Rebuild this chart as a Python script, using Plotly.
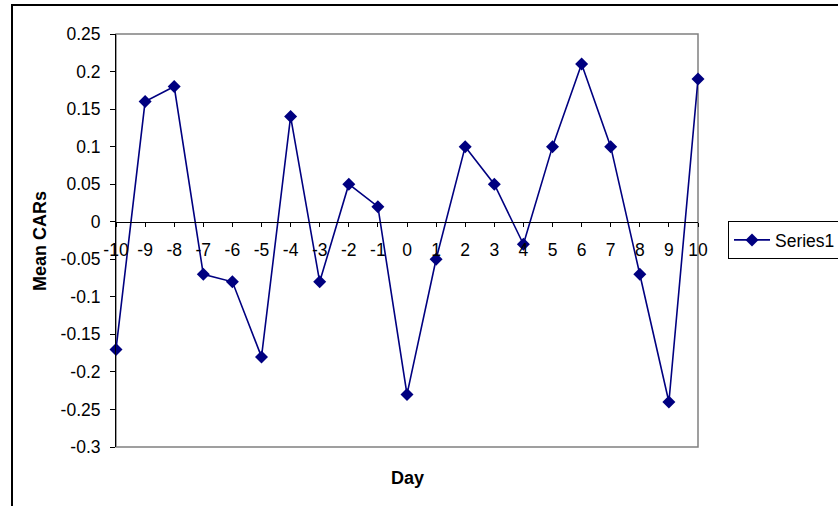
import plotly.graph_objects as go

days = [-10, -9, -8, -7, -6, -5, -4, -3, -2, -1, 0, 1, 2, 3, 4, 5, 6, 7, 8, 9, 10]
mean_cars = [-0.17, 0.16, 0.18, -0.07, -0.08, -0.18, 0.14, -0.08, 0.05, 0.02, -0.23,
             -0.05, 0.10, 0.05, -0.03, 0.10, 0.21, 0.10, -0.07, -0.24, 0.19]
y_ticks = [0.25, 0.2, 0.15, 0.1, 0.05, 0, -0.05, -0.1, -0.15, -0.2, -0.25, -0.3]
y_ticklabels = ["0.25", "0.2", "0.15", "0.1", "0.05", "0", "-0.05", "-0.1", "-0.15", "-0.2", "-0.25", "-0.3"]
series_name = "Series1"

W, H = 838, 506
L, R, T, B = 116, 698, 34, 447
pw, ph = R - L, B - T
ymin, ymax = -0.3, 0.25
navy = "#000080"
font = "Arial, Liberation Sans, sans-serif"
fs = 17.5

def px_x(x):
    return (x - L) / pw

def px_y(y):
    return (B - y) / ph

fig = go.Figure()
fig.add_trace(go.Scatter(
    x=days, y=mean_cars, mode="lines+markers", name=series_name,
    line=dict(color=navy, width=1.6),
    marker=dict(symbol="diamond", size=10, color=navy),
    cliponaxis=False,
))

zero_pos = (0 - ymin) / (ymax - ymin)

fig.update_layout(
    width=W, height=H,
    margin=dict(l=L, r=W - R, t=T, b=H - B, pad=0, autoexpand=False),
    paper_bgcolor="white", plot_bgcolor="white",
    font=dict(family=font, size=fs, color="black"),
    showlegend=True,
    legend=dict(
        xref="container", yref="container",
        x=728 / W, y=1 - 240 / H, xanchor="left", yanchor="middle",
        bordercolor="black", borderwidth=1, bgcolor="white",
        font=dict(family=font, size=fs, color="black"),
        itemwidth=36, tracegroupgap=0,
    ),
    xaxis=dict(
        range=[-10, 10], tickmode="array", tickvals=days,
        ticktext=[str(d) for d in days],
        showgrid=False, zeroline=False,
        showline=True, linecolor="black", linewidth=1,
        ticks="outside", ticklen=4, tickcolor="black",
        anchor="free", position=zero_pos,
        ticklabelstandoff=8,
        tickfont=dict(family=font, size=fs, color="black"),
    ),
    yaxis=dict(
        range=[ymin, ymax], tickmode="array", tickvals=y_ticks, ticktext=y_ticklabels,
        showgrid=False, zeroline=False,
        showline=True, linecolor="black", linewidth=1,
        ticks="outside", ticklen=5, tickcolor="black",
        ticklabelstandoff=6,
        tickfont=dict(family=font, size=fs, color="black"),
    ),
    shapes=[
        dict(type="rect", xref="paper", yref="paper", x0=0, x1=1, y0=0, y1=1,
             line=dict(color="#808080", width=1.5), layer="below"),
        dict(type="rect", xref="paper", yref="paper",
             x0=px_x(12), x1=px_x(845), y0=px_y(515), y1=px_y(5),
             line=dict(color="black", width=2), layer="below"),
    ],
    annotations=[
        dict(text="<b>Mean CARs</b>", xref="paper", yref="paper",
             x=px_x(40), y=px_y(241), textangle=-90, showarrow=False,
             xanchor="center", yanchor="middle",
             font=dict(family=font, size=18, color="black")),
        dict(text="<b>Day</b>", xref="paper", yref="paper",
             x=px_x(407), y=px_y(478), showarrow=False,
             xanchor="center", yanchor="middle",
             font=dict(family=font, size=18, color="black")),
    ],
)

fig.write_html(
    "out.html",
    config={"displayModeBar": False},
    post_script="document.body.style.margin='0';document.body.style.overflow='hidden';",
)
